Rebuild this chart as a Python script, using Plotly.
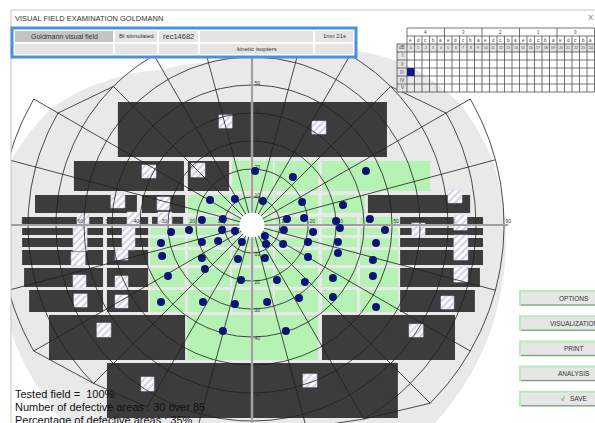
import numpy as np
import plotly.graph_objects as go

# ---------------- data (visual-field degrees) ----------------
RING_DEG = [10, 20, 30, 40, 50, 60, 70, 80, 90]
MERIDIANS = list(range(0, 360, 15))
MERIDIAN_EXTENT = [90, 90, 90, 70, 70, 70, 70, 70, 70, 70, 90, 90,
                   90, 90, 90, 80, 75, 75, 75, 75, 80, 90, 90, 90]
FIELD_EXTENT = [90.5, 89, 86, 80, 72, 66, 62, 60, 64, 73, 83, 89,
                92, 93, 95, 97, 97, 97, 97, 97, 97, 96, 94, 92]

# defective areas (x0, x1, y0, y1)
DEFECT_AREAS = [
    (-47.9, -0.4, 24.3, 43.9), (0.4, 48.2, 24.3, 43.9),
    (-63.6, -24.3, 12.1, 22.9), (-22.9, -8.2, 12.1, 22.9),
    (-77.5, -41.1, 4.3, 10.7), (-39.3, -23.9, 4.3, 10.7), (41.4, 77.9, 4.3, 10.7),
    (-82.1, -53.2, 0.4, 2.9), (-51.8, -37.1, 0.4, 2.9), (-35.7, -24.6, 0.4, 2.9), (52.9, 82.5, 0.4, 2.9),
    (-82.1, -53.2, -3.6, -1.1), (-51.8, -37.1, -3.6, -1.1), (52.9, 82.5, -3.6, -1.1),
    (-82.1, -53.2, -7.9, -4.6), (-51.8, -37.1, -7.9, -4.6), (52.9, 82.5, -7.9, -4.6),
    (-82.1, -53.2, -14.3, -8.9), (-51.8, -37.1, -14.3, -8.9), (52.9, 82.5, -14.3, -8.9),
    (-81.4, -53.2, -22.1, -15.4), (-51.8, -37.1, -22.1, -15.4), (52.9, 81.4, -22.1, -15.4),
    (-79.6, -53.2, -31.1, -23.2), (-51.8, -37.1, -31.1, -23.2), (52.9, 79.6, -31.1, -23.2),
    (-72.5, -23.9, -48.2, -32.1), (25.0, 72.5, -48.2, -32.1),
    (-51.8, -0.4, -68.9, -49.3), (0.4, 52.1, -68.9, -49.3),
]

NORMAL_COLS_B = [(-7.1, -0.7), (0.4, 7.5), (8.2, 23.6), (25.0, 63.6)]
NORMAL_COLS_C = [(-22.9, -7.9), (-7.1, -0.7), (0.4, 7.5), (8.2, 23.6), (25.0, 40.4)]
NORMAL_COLS_D = [(-22.9, -7.9), (-7.1, -0.7), (0.4, 7.5), (8.2, 23.6), (25.0, 37.5), (38.6, 52.1)]
NORMAL_COLS_MID = [(-36.4, -23.9), (-22.9, -7.9), (-7.1, -0.7), (0.4, 7.5), (8.2, 23.6),
                   (25.0, 37.5), (38.6, 52.1)]
NORMAL_COLS_J = [(-23.2, -0.4), (0.4, 23.6)]
ROW_B, ROW_C, ROW_D = (12.1, 22.9), (4.3, 10.7), (0.4, 2.9)
ROWS_MID = [(-3.6, -1.1), (-7.9, -4.6), (-14.3, -8.9), (-22.1, -15.4), (-31.1, -23.2)]
ROW_J = (-48.2, -32.1)

HATCH_MARKS = [
    (-11.8, -7.1, 34.6, 39.3), (-39.3, -34.3, 16.8, 21.4), (-21.8, -16.8, 17.1, 22.1),
    (-50.4, -45.4, 6.1, 10.7), (-33.9, -29.3, 5.4, 10.0), (-62.5, -58.2, -0.4, 3.9),
    (-63.9, -58.9, -9.3, -0.7), (-64.6, -59.6, -14.6, -9.6), (-44.6, -40.0, -0.4, 4.6),
    (-46.4, -41.8, -8.9, -0.7), (-48.9, -44.3, -12.5, -8.9), (-33.6, -28.6, -0.4, 4.6),
    (-63.9, -59.3, -22.5, -17.9), (-48.9, -44.3, -22.9, -18.2), (-63.6, -58.9, -29.3, -24.6),
    (-48.9, -44.3, -29.6, -25.0), (-55.4, -50.4, -40.0, -35.0), (-39.6, -35.0, -59.3, -54.3),
    (21.4, 26.4, 32.5, 37.1), (70.0, 75.0, 7.9, 12.5), (72.1, 76.8, -1.8, 3.6),
    (57.1, 61.8, -4.3, 0.7), (72.1, 77.1, -12.5, -3.6), (72.1, 77.1, -20.4, -15.0),
    (67.5, 72.1, -30.0, -25.4), (56.1, 61.1, -40.0, -35.4), (18.2, 23.2, -57.9, -53.2),
]

DOT_X = [1.1, 14.6, 40.7,
         -15.0, -6.1, 3.9, 17.9, 32.5,
         -17.9, -10.4, 12.5, 18.6, 30.0, 42.1,
         31.4, 47.5,
         -28.9, -22.5, -10.7, -6.1, 4.6, 11.4, 21.8,
         -32.5, -17.9, -12.1, -3.6, 5.0, 11.1, 20.0, 30.7, 44.3,
         -32.1, -17.9, -5.0, 4.6, 20.0, 30.7, 43.2,
         -16.8,
         -30.0, -3.9, 8.9, 18.9, 28.9, 43.2,
         -32.5, -17.5, -6.1, 5.4, 16.8, 28.9, 44.3,
         -10.4, 12.1]
DOT_Y = [19.3, 17.1, 19.3,
         8.9, 9.3, 8.6, 8.2, 7.1,
         1.8, 2.1, 2.1, 2.5, 1.4, 2.1,
         -1.1, -1.8,
         -2.5, -1.8, -1.8, -2.1, -3.9, -1.8, -2.5,
         -6.4, -6.1, -5.7, -6.1, -6.8, -6.8, -6.1, -6.1, -6.4,
         -11.1, -11.8, -12.1, -11.8, -11.4, -10.0, -12.5,
         -15.7,
         -18.2, -19.6, -19.6, -20.4, -18.9, -18.2,
         -27.5, -27.5, -28.2, -27.5, -26.1, -25.7, -29.3,
         -37.9, -37.9]

HEADER_ROW1 = ["Goldmann visual field", "BI stimulated", "rec14682", "", "1mn 21s"]
HEADER_ROW2 = ["", "", "", "kinetic isopters", ""]
TABLE_GROUPS = ["4", "3", "2", "1", "0"]
TABLE_LETTERS = ["e", "d", "c", "b", "a"]
TABLE_ROWS = ["I", "II", "III", "IV", "V"]
TABLE_SELECTED = ("III", 0)
BUTTONS = ["OPTIONS", "VISUALIZATION", "PRINT", "ANALYSIS", "SAVE"]
SUMMARY = ["Tested field =  100%", "Number of defective areas : 30 over 85",
           "Percentage of defective areas : 35%"]

# ---------------- geometry of the page ----------------
W, H = 595, 423
CX, CY = 252, 225          # field centre in page pixels
S = 2.8                    # pixels per degree
FONT = "Liberation Sans, Arial, sans-serif"


def px(x):
    return x / W


def py(y):
    return 1 - y / H


def pol(r, a):
    t = np.deg2rad(a)
    return r * np.cos(t), r * np.sin(t)


def note(x, y, text, size, color="#333", xanchor="center"):
    annotations.append(dict(x=px(x), y=py(y), xref="paper", yref="paper", text=text,
                            showarrow=False, xanchor=xanchor, yanchor="middle",
                            font=dict(size=size, color=color, family=FONT)))


fig = go.Figure()
shapes = []
annotations = []

# light-grey field background
angs = np.arange(0, 360, 2.0)
ext_closed = FIELD_EXTENT + [FIELD_EXTENT[0]]
rad = np.interp(angs, list(range(0, 375, 15)), ext_closed)
bx, by = pol(rad, angs)
path = "M " + " L ".join(f"{a:.2f},{b:.2f}" for a, b in zip(bx, by)) + " Z"
shapes.append(dict(type="path", path=path, xref="x", yref="y", layer="below",
                   fillcolor="#e9e9e9", line=dict(width=0)))

# defective / normal areas
for (x0, x1, y0, y1) in DEFECT_AREAS:
    shapes.append(dict(type="rect", xref="x", yref="y", x0=x0, x1=x1, y0=y0, y1=y1,
                       layer="below", fillcolor="#3c3c3c", line=dict(width=0)))
normal = []
normal += [(a, b) + ROW_B for a, b in NORMAL_COLS_B]
normal += [(a, b) + ROW_C for a, b in NORMAL_COLS_C]
normal += [(a, b) + ROW_D for a, b in NORMAL_COLS_D]
for row in ROWS_MID:
    normal += [(a, b) + row for a, b in NORMAL_COLS_MID]
normal += [(a, b) + ROW_J for a, b in NORMAL_COLS_J]
for (x0, x1, y0, y1) in normal:
    shapes.append(dict(type="rect", xref="x", yref="y", x0=x0, x1=x1, y0=y0, y1=y1,
                       layer="below", fillcolor="#b6f2b4", line=dict(width=0)))

# hatched marks
hx, hy = [], []
for (x0, x1, y0, y1) in HATCH_MARKS:
    hx += [x0, x1, x1, x0, x0, None]
    hy += [y0, y0, y1, y1, y0, None]
fig.add_trace(go.Scatter(x=hx, y=hy, mode="lines", fill="toself",
                         fillcolor="white", line=dict(width=0.6, color="#d8d8ea"),
                         fillpattern=dict(shape="/", fgcolor="#9c9ccf", bgcolor="white",
                                          size=5, solidity=0.4),
                         hoverinfo="skip", showlegend=False))

# polar grid: rings between meridians up to the shorter extent, a chord to the
# longer meridian one ring further out, meridians to their own extent
gx, gy = [], []
n = len(MERIDIANS)
for i in range(n):
    a0 = MERIDIANS[i]
    a1 = a0 + 15
    e0, e1 = MERIDIAN_EXTENT[i], MERIDIAN_EXTENT[(i + 1) % n]
    m = min(e0, e1)
    ts = np.linspace(a0, a1, 16)
    for r in RING_DEG:
        if r <= m:
            xs, ys = pol(r, ts)
            gx += list(xs) + [None]
            gy += list(ys) + [None]
    if e0 != e1:
        if e0 > e1:
            xa, ya = pol(e1, a1)
            xb, yb = pol(min(e0, e1 + 10), a0)
        else:
            xa, ya = pol(e0, a0)
            xb, yb = pol(min(e1, e0 + 10), a1)
        gx += [xa, xb, None]
        gy += [ya, yb, None]
for a, e in zip(MERIDIANS, MERIDIAN_EXTENT):
    x, y = pol(e, a)
    gx += [0, x, None]
    gy += [0, y, None]
fig.add_trace(go.Scatter(x=gx, y=gy, mode="lines", line=dict(color="#202020", width=0.8),
                         hoverinfo="skip", showlegend=False))

# main axes (grey)
fig.add_trace(go.Scatter(x=[-86, 91.5, None, 0, 0], y=[0, 0, None, -75, 61], mode="lines",
                         line=dict(color="#a0a0a0", width=2.2), hoverinfo="skip",
                         showlegend=False))

# fixation disc
cx_, cy_ = pol(4.5, np.linspace(0, 360, 60))
fig.add_trace(go.Scatter(x=cx_, y=cy_, mode="lines", fill="toself", fillcolor="white",
                         line=dict(width=0, color="white"), hoverinfo="skip", showlegend=False))

# ring labels
lx, ly, lt = [], [], []
for r in RING_DEG:
    lx.append(r + 1.5); ly.append(1.1); lt.append(str(r))
    if r <= 80:
        lx.append(-(r + 1.3)); ly.append(1.1); lt.append(str(r))
    if r <= 55:
        lx.append(1.9); ly.append(r + 0.5); lt.append(str(r))
    if r <= 60:
        lx.append(1.9); ly.append(-(r + 0.5)); lt.append(str(r))
fig.add_trace(go.Scatter(x=lx, y=ly, mode="text", text=lt,
                         textfont=dict(size=5, color="#333", family=FONT),
                         hoverinfo="skip", showlegend=False))

# detected stimuli
fig.add_trace(go.Scatter(x=DOT_X, y=DOT_Y, mode="markers",
                         marker=dict(size=8, color="#0a1478", line=dict(width=0)),
                         hoverinfo="skip", showlegend=False))

# ---------------- window chrome ----------------
shapes.append(dict(type="rect", xref="paper", yref="paper", x0=0, x1=px(11), y0=0, y1=1,
                   fillcolor="white", line=dict(width=0), layer="above"))
shapes.append(dict(type="rect", xref="paper", yref="paper", x0=0, x1=1, y0=py(10), y1=1,
                   fillcolor="white", line=dict(width=0), layer="above"))
shapes.append(dict(type="line", xref="paper", yref="paper", x0=px(11), x1=px(11),
                   y0=0, y1=py(10), line=dict(color="#c4c4c4", width=1), layer="above"))
shapes.append(dict(type="line", xref="paper", yref="paper", x0=px(11), x1=1,
                   y0=py(10), y1=py(10), line=dict(color="#c4c4c4", width=1), layer="above"))
note(13, 18.5, "VISUAL FIELD EXAMINATION GOLDMANN", 7.5, xanchor="left")
note(591, 18, "X", 8, color="#777")

# header box
shapes.append(dict(type="rect", xref="paper", yref="paper", x0=px(12), x1=px(356),
                   y0=py(57), y1=py(28), fillcolor="white",
                   line=dict(color="#4a92dc", width=3), layer="above"))
cols = [(15, 113), (115, 157), (159, 198), (200, 313), (315, 353)]
for ri, (labels, (ya, yb)) in enumerate([(HEADER_ROW1, (31, 42)), (HEADER_ROW2, (44, 54))]):
    for ci, ((xa, xb), lab) in enumerate(zip(cols, labels)):
        fc = "#c4c4c4" if (ri == 0 and ci == 0) else "#e5e5e5"
        shapes.append(dict(type="rect", xref="paper", yref="paper", x0=px(xa), x1=px(xb),
                           y0=py(yb), y1=py(ya), fillcolor=fc, line=dict(width=0),
                           layer="above"))
        if lab:
            note((xa + xb) / 2, (ya + yb) / 2, lab,
                 7.5 if lab == "rec14682" else (7 if ci == 0 else 6))

# stimulus table
TX0, TLAB, CW, TY0, RH = 407, 397, 7.5, 28, 8
ncol = 5 * len(TABLE_GROUPS)
tx1 = TX0 + CW * ncol
nrow = 3 + len(TABLE_ROWS)
shapes.append(dict(type="rect", xref="paper", yref="paper", x0=px(TLAB), x1=px(tx1),
                   y0=py(TY0 + 3 * RH), y1=py(TY0 + 2 * RH), fillcolor="#e2e2e2",
                   line=dict(width=0), layer="above"))
shapes.append(dict(type="rect", xref="paper", yref="paper", x0=px(TLAB), x1=px(TX0),
                   y0=py(TY0 + nrow * RH), y1=py(TY0 + 2 * RH), fillcolor="#e2e2e2",
                   line=dict(width=0), layer="above"))
sel_r = TABLE_ROWS.index(TABLE_SELECTED[0]) + 3
sel_c = TABLE_SELECTED[1]
shapes.append(dict(type="rect", xref="paper", yref="paper", x0=px(TX0 + CW * sel_c),
                   x1=px(TX0 + CW * (sel_c + 1)), y0=py(TY0 + (sel_r + 1) * RH),
                   y1=py(TY0 + sel_r * RH), fillcolor="#0b1a8a", line=dict(width=0),
                   layer="above"))
tl = dict(color="#3a3a3a", width=0.7)
for k in range(nrow + 1):
    y = TY0 + k * RH
    xa = TX0 if k < 2 else TLAB
    shapes.append(dict(type="line", xref="paper", yref="paper", x0=px(xa), x1=px(tx1),
                       y0=py(y), y1=py(y), line=tl, layer="above"))
for c in range(ncol + 1):
    x = TX0 + c * CW
    ytop = TY0 if c % 5 == 0 else TY0 + RH
    shapes.append(dict(type="line", xref="paper", yref="paper", x0=px(x), x1=px(x),
                       y0=py(ytop), y1=py(TY0 + nrow * RH), line=tl, layer="above"))
shapes.append(dict(type="line", xref="paper", yref="paper", x0=px(TLAB), x1=px(TLAB),
                   y0=py(TY0 + 2 * RH), y1=py(TY0 + nrow * RH), line=tl, layer="above"))
for g, lab in enumerate(TABLE_GROUPS):
    note(TX0 + CW * (5 * g + 2.5), TY0 + RH / 2, lab, 4.5, "#444")
    for j, let in enumerate(TABLE_LETTERS):
        note(TX0 + CW * (5 * g + j + 0.5), TY0 + 1.5 * RH, let, 4.5, "#444")
for c in range(ncol):
    note(TX0 + CW * (c + 0.5), TY0 + 2.5 * RH, str(c), 3.5, "#444")
for k, lab in enumerate(["dB"] + TABLE_ROWS):
    note((TLAB + TX0) / 2, TY0 + (2.5 + k) * RH, lab, 4.5, "#444")

# buttons
for i, lab in enumerate(BUTTONS):
    ya = 291 + i * 25.2
    shapes.append(dict(type="rect", xref="paper", yref="paper", x0=px(520), x1=px(600),
                       y0=py(ya + 14), y1=py(ya), fillcolor="#e6e6e6",
                       line=dict(color="#b6ecb6", width=2), layer="above"))
    shapes.append(dict(type="line", xref="paper", yref="paper", x0=px(521), x1=px(600),
                       y0=py(ya + 14), y1=py(ya + 14), line=dict(color="#8a8a8a", width=1),
                       layer="above"))
    txt = lab if lab != "SAVE" else "<span style='color:#3aa83a'><b>√</b></span>   SAVE"
    note(574, ya + 7, txt, 6.5)

# summary text
for i, line in enumerate(SUMMARY):
    note(13, 394 + i * 13, line, 11, "#111", xanchor="left")

fig.update_layout(
    width=W, height=H, margin=dict(l=0, r=0, t=0, b=0),
    paper_bgcolor="white", plot_bgcolor="white",
    xaxis=dict(range=[-CX / S, (W - CX) / S], visible=False, fixedrange=True),
    yaxis=dict(range=[-(H - CY) / S, CY / S], visible=False, fixedrange=True),
    shapes=shapes, annotations=annotations, showlegend=False,
)
fig.write_html("out.html", config=dict(displayModeBar=False),
               post_script="document.body.style.margin='0';"
                           "document.body.style.overflow='hidden';")
